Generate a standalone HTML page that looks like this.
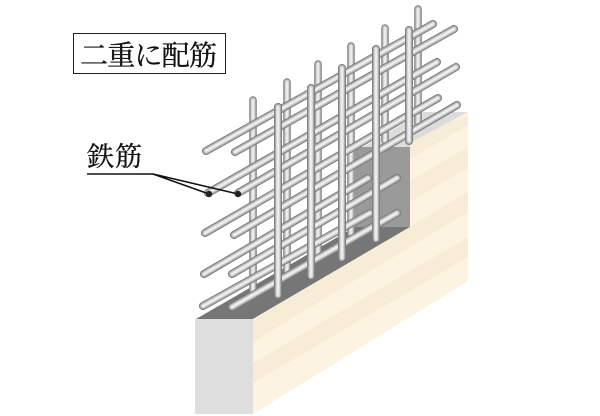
<!DOCTYPE html>
<html lang="ja">
<head>
<meta charset="utf-8">
<style>
html,body{margin:0;padding:0;background:#fff;}
svg{display:block;}
text{font-family:"Liberation Serif","Noto Serif CJK JP","Noto Serif CJK SC",serif;fill:#111;stroke:#111;stroke-width:.35;}
</style>
</head>
<body>
<svg width="600" height="416" viewBox="0 0 600 416" xmlns="http://www.w3.org/2000/svg">
<defs>
<clipPath id="face"><polygon points="253,319 410,227 410,143 468,112 468,281 253,414"/></clipPath>
<filter id="soft" x="-5%" y="-5%" width="110%" height="110%"><feGaussianBlur stdDeviation="0.3"/></filter>
<g id="backV" fill="none" stroke-linecap="round">
<path d="M253 100V292M287 82V272M318 64V255M351 46V235M385 28V141M418 9V123"/>
</g>
<g id="horiz" fill="none" stroke-linecap="round">
<path d="M206 151L433 24M235 152L454 29M208 193L437 62M238 193L456 67M205 233L438 98M234 235L457 105M204 274L368 178M232 274L397 178M203 306L370 213M232 307L397 213"/>
</g>
<g id="frontV" fill="none" stroke-linecap="round">
<path d="M278 107V295M311 88V276M342 68V258M376 49V239M409 30V141"/>
</g>
</defs>

<!-- wall -->
<polygon points="423,112 468,112 410,147 363,147" fill="#dcdcdc"/>
<polygon points="355,147 410,147 410,228 355,228" fill="#9a9a9a"/>
<polygon points="196,319 253,319 410,227 355,227" fill="#767676"/>
<polygon points="253,319 410,227 410,143 468,112 468,281 253,414" fill="#fdf3e1"/>
<g clip-path="url(#face)" fill="#f7edd6">
<polygon points="253,272 468,147 468,168 253,293"/>
<polygon points="253,320 468,192 468,212 253,342"/>
<polygon points="253,363 468,237 468,257 253,383"/>
<polygon points="400,140 468,115 468,125 400,165"/>
</g>
<rect x="195" y="319" width="58" height="95" fill="#dedede"/>

<g filter="url(#soft)">
<!-- back verticals -->
<use href="#backV" stroke="#7d7d7d" stroke-width="7.5"/>
<use href="#backV" stroke="#a8a8a8" stroke-width="6"/>
<use href="#backV" stroke="#d6d6d6" stroke-width="3.8"/>
<use href="#backV" stroke="#f2f2f2" stroke-width="1.5"/>
<!-- horizontals -->
<use href="#horiz" stroke="#757575" stroke-width="8"/>
<use href="#horiz" stroke="#a6a6a6" stroke-width="6.5"/>
<use href="#horiz" stroke="#d6d6d6" stroke-width="4.2"/>
<use href="#horiz" stroke="#f2f2f2" stroke-width="1.6"/>
<!-- front verticals -->
<use href="#frontV" stroke="#757575" stroke-width="8"/>
<use href="#frontV" stroke="#a6a6a6" stroke-width="6.5"/>
<use href="#frontV" stroke="#d6d6d6" stroke-width="4.2"/>
<use href="#frontV" stroke="#f2f2f2" stroke-width="1.6"/>
</g>

<!-- leader -->
<path d="M87 174H153L209 194M153 174L238 194" fill="none" stroke="#111" stroke-width="1.5"/>
<circle cx="209" cy="194" r="3.2" fill="#222"/>
<circle cx="238" cy="194" r="3.2" fill="#222"/>

<!-- labels -->
<rect x="73.5" y="33.5" width="152" height="40" fill="#fff" stroke="#222" stroke-width="1"/>
<text x="80" y="65" font-size="28" textLength="137" lengthAdjust="spacing">二重に配筋</text>
<text x="87" y="166" font-size="27" textLength="55" lengthAdjust="spacing">鉄筋</text>
</svg>
</body>
</html>
